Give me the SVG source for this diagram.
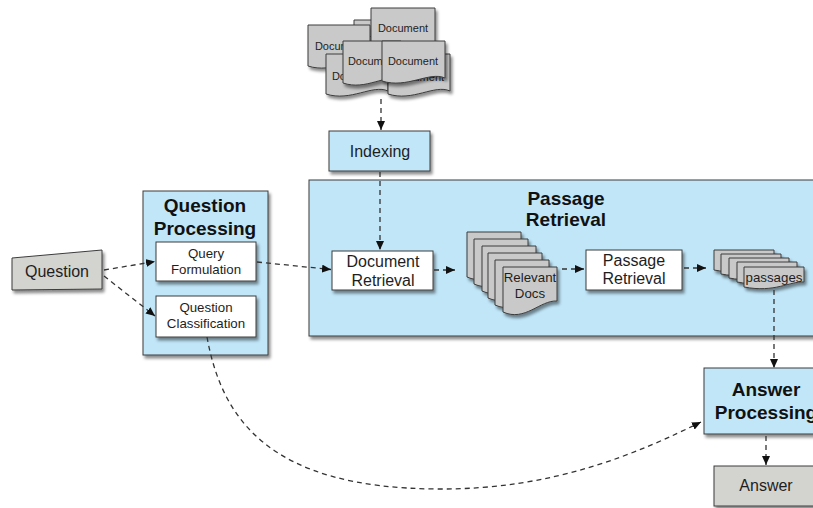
<svg xmlns="http://www.w3.org/2000/svg" width="813" height="508" viewBox="0 0 813 508">
<defs>
<filter id="sh" x="-10%" y="-10%" width="130%" height="140%">
<feDropShadow dx="2" dy="3" stdDeviation="1.5" flood-color="#000" flood-opacity="0.45"/>
</filter>
<marker id="ah" markerWidth="10" markerHeight="8" refX="9" refY="4" orient="auto" markerUnits="userSpaceOnUse">
<path d="M0,0 L9,4 L0,8 z" fill="#111"/>
</marker>
</defs>
<style>
.blue{fill:#c0e6f8;stroke:#3c3c3c;stroke-width:1;filter:url(#sh)}
.white{fill:#ffffff;stroke:#3c3c3c;stroke-width:1;filter:url(#sh)}
.gray{fill:#d3d3cf;stroke:#3c3c3c;stroke-width:1;filter:url(#sh)}
.doc{fill:#c9c9c9;stroke:#3c3c3c;stroke-width:1;filter:url(#sh)}
.conn{fill:none;stroke:#333;stroke-width:1.3;stroke-dasharray:5 4;marker-end:url(#ah)}
text{font-family:"Liberation Sans",Arial,sans-serif;fill:#1e1e1e;text-anchor:middle}
.t16{font-size:16px}
.t13{font-size:13.3px}
.t11{font-size:11px}
.title{font-size:19px;font-weight:bold;fill:#111}
</style>

<g id="documents">
<path class="doc" d="M354,20 H414 V55 C399,48 378,66 354,58 Z"/>
<text class="t11" x="385" y="42">Document</text>
<path class="doc" d="M308,25 H370 V63 C354.5,56 332.8,74 308,66 Z"/>
<text class="t11" x="340" y="50">Document</text>
<path class="doc" d="M326,54 H388 V91 C372.5,84 350.8,102 326,94 Z"/>
<text class="t11" x="357" y="80">Document</text>
<path class="doc" d="M388,54 H450 V91 C434.5,84 412.8,102 388,94 Z"/>
<text class="t11" x="419" y="81">Document</text>
<path class="doc" d="M371,8 H435 V46 C419,39 396.6,57 371,49 Z"/>
<text class="t11" x="403" y="32">Document</text>
<path class="doc" d="M343,41 H401 V80 C386.5,73 366.2,91 343,83 Z"/>
<text class="t11" x="373" y="65">Document</text>
<path class="doc" d="M382,41 H445 V78 C429.25,71 407.2,89 382,81 Z"/>
<text class="t11" x="413" y="65">Document</text>
</g>

<g id="indexing">
<rect class="blue" x="329" y="131" width="101" height="40"/>
<text class="t16" x="380" y="157">Indexing</text>
</g>

<g id="passage-retrieval-group">
<rect class="blue" x="309" y="180" width="520" height="156"/>
<text class="title" x="566" y="205">Passage</text>
<text class="title" x="566" y="226">Retrieval</text>
</g>

<g id="question-processing">
<rect class="blue" x="143" y="191" width="125" height="164"/>
<text class="title" x="205" y="212">Question</text>
<text class="title" x="205" y="235">Processing</text>
</g>

<g id="question">
<path class="gray" d="M12,258 L102,250 L102,289 L12,290 Z"/>
<text class="t16" x="57" y="277">Question</text>
</g>

<g id="query-formulation">
<rect class="white" x="156" y="242" width="100" height="39"/>
<text class="t13" x="206" y="258">Query</text>
<text class="t13" x="206" y="274">Formulation</text>
</g>

<g id="question-classification">
<rect class="white" x="156" y="296" width="100" height="41"/>
<text class="t13" x="206" y="312">Question</text>
<text class="t13" x="206" y="328">Classification</text>
</g>

<g id="document-retrieval">
<rect class="white" x="332" y="251" width="101" height="39"/>
<text class="t16" x="383" y="267">Document</text>
<text class="t16" x="383" y="286">Retrieval</text>
</g>

<g id="relevant-docs">
<path class="doc" d="M467,232 H521 V266 C504,265 489,287 467,277 Z"/>
<path class="doc" d="M474,239 H528 V273 C511,272 496,294 474,284 Z"/>
<path class="doc" d="M482,246 H536 V280 C519,279 504,301 482,291 Z"/>
<path class="doc" d="M488,253 H542 V287 C525,286 510,308 488,298 Z"/>
<path class="doc" d="M495,260 H549 V294 C532,293 517,315 495,305 Z"/>
<path class="doc" d="M503,267 H557 V301 C540,300 525,322 503,312 Z"/>
<text class="t13" x="530" y="282">Relevant</text>
<text class="t13" x="530" y="298">Docs</text>
</g>

<g id="passage-retrieval">
<rect class="white" x="586" y="250" width="96" height="40"/>
<text class="t16" x="634" y="266">Passage</text>
<text class="t16" x="634" y="284">Retrieval</text>
</g>

<g id="passages">
<path class="doc" d="M714,250 H774 V265 C760,264 745,276 714,270 Z"/>
<path class="doc" d="M721,254 H781 V269 C767,268 752,280 721,274 Z"/>
<path class="doc" d="M729,258 H789 V273 C775,272 760,284 729,278 Z"/>
<path class="doc" d="M737,262 H797 V277 C783,276 768,288 737,282 Z"/>
<path class="doc" d="M744,267 H804 V282 C790,281 775,293 744,287 Z"/>
<text class="t13" x="774" y="282">passages</text>
</g>

<g id="answer-processing">
<rect class="blue" x="704" y="368" width="125" height="66"/>
<text class="title" x="766" y="396">Answer</text>
<text class="title" x="766" y="419">Processing</text>
</g>

<g id="answer">
<rect class="gray" x="714" y="466" width="104" height="40"/>
<text class="t16" x="766" y="491">Answer</text>
</g>

<g id="connectors">
<path class="conn" d="M381,99 L381,130"/>
<path class="conn" d="M380,172 L380,250"/>
<path class="conn" d="M104,270 L155,261.5"/>
<path class="conn" d="M104,276 L155,316"/>
<path class="conn" d="M257,262 L331,269.5"/>
<path class="conn" d="M434,270 L455,270"/>
<path class="conn" d="M562,269 L584,269"/>
<path class="conn" d="M684,268 L706,268"/>
<path class="conn" d="M774,290 L774,368"/>
<path class="conn" d="M766,436 L766,465"/>
<path class="conn" d="M207,337 C222,420 270,488 437,489 C555,490 640,452 701,422"/>
</g>
</svg>
